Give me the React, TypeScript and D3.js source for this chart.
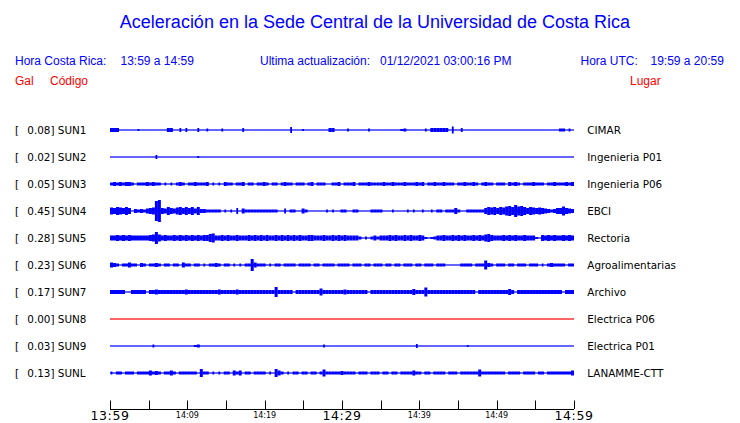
import React from "react";
import * as d3 from "d3";

// ---------- data ----------
const stationCodes = ["SUN1", "SUN2", "SUN3", "SUN4", "SUN5", "SUN6", "SUN7", "SUN8", "SUN9", "SUNL"];
const peakGal = [0.08, 0.02, 0.05, 0.45, 0.28, 0.23, 0.17, 0.0, 0.03, 0.13];
const places = [
  "CIMAR",
  "Ingenieria P01",
  "Ingenieria P06",
  "EBCI",
  "Rectoria",
  "Agroalimentarias",
  "Archivo",
  "Electrica P06",
  "Electrica P01",
  "LANAMME-CTT",
];

// envelope of each trace: one character per time bin (base-36 digit = peak-to-peak height, half pixels)
const env1 = ["4440000002", "0000000004", "4004040004", "0030000300", "0000400000", "0000000000", "6000200000", "0004400003", "0000003000", "0000000230", "0000030444", "4440700400", "0000000000", "0000000000", "0000000000", "33030"];
const env2 = ["0000000000", "0000040000", "0000000002", "0000000000", "0000000000", "0000000000", "0000000000", "0000000000", "0000000000", "0000000000", "0000000000", "0000000000", "0000000000", "0000000000", "0000000000", "00000"];
const env3 = ["3434344303", "3343433030", "3034303343", "3340303043", "3033403303", "3430330343", "3033303403", "3300334033", "3403334333", "3433433343", "3343403343", "3433303343", "3430343303", "3304343033", "3433303343", "33434"];
const env4 = ["7687686043", "43567km658", "6578686858", "4433333030", "3060533333", "3333330050", "3300530000", "0030300330", "0330000333", "3000300003", "0300300303", "3033363003", "3333368786", "879a8c9a86", "8767654346", "69654"];
const env5 = ["5565656555", "55567c7565", "5656565656", "5668955656", "5565556565", "6565565656", "5656556655", "5655656565", "5553030353", "5556565565", "6556520235", "5655656565", "5656578655", "5656565565", "5520656565", "56565"];
const env6 = ["5430335330", "4303343033", "0330533033", "0303343033", "0303033c53", "3303033033", "3303333033", "0333303333", "0333033033", "3033033033", "3033033303", "3300000333", "3033394303", "3303303330", "3330303433", "33033"];
const env7 = ["4444400444", "4404454444", "4444454444", "4444445444", "4454444444", "44444a4444", "4044444444", "7444444454", "4444440444", "4444444444", "4644494444", "4444444444", "4404444444", "4446404444", "4444444444", "40444"];
const env8 = ["0000000000", "0000000000", "0000000000", "0000000000", "0000000000", "0000000000", "0000000000", "0000000000", "0000000000", "0000000000", "0000000000", "0000000000", "0000000000", "0000000000", "0000000000", "00000"];
const env9 = ["0000000000", "0000300000", "0000000023", "0000000000", "0000000000", "0000000000", "0000000000", "0300000000", "0000000000", "0000000000", "0040000000", "0000000002", "0000000000", "0000000000", "0000000000", "00000"];
const envL = ["3033033303", "3335343033", "5303333330", "8330303033", "0535033033", "3303085303", "0330330330", "3733333433", "3303330333", "0330330333", "3533033033", "3303330333", "3337333333", "3303333033", "3303303333", "33335"];
const envelopes = [env1, env2, env3, env4, env5, env6, env7, env8, env9, envL];

const windowMinutes = 60;
const tickMinutes = [0, 5, 10, 15, 20, 25, 30, 35, 40, 45, 50, 55, 60];
const labelMinutes = [0, 10, 20, 30, 40, 50, 60];
const labelTexts = ["13:59", "14:09", "14:19", "14:29", "14:39", "14:49", "14:59"];

const title = "Aceleración en la Sede Central de la Universidad de Costa Rica";

// ---------- chart ----------
const W = 740;
const H = 423;
const BLUE = "#0000ff";
const RED = "#ff0000";
const HEAD_FONT = "'Liberation Sans', Arial, sans-serif";
const LABEL_FONT = "'DejaVu Sans', sans-serif";

export default function App() {
  const x = d3.scaleLinear().domain([0, windowMinutes]).range([110, 574]);
  const y = d3.scalePoint<string>().domain(stationCodes).range([130, 373]);
  const amp = d3.scaleLinear().domain([0, 2]).range([0, 1]); // half-pixel units -> px
  const axisY = 409;

  return (
    <svg
      width={W}
      height={H}
      style={{ position: "absolute", left: 0, top: 0, background: "#fff" }}
    >
      <rect width={W} height={H} fill="#fff" />
      <text x={375} y={28} textAnchor="middle" fill={BLUE} fontFamily={HEAD_FONT} fontSize={18}>
        {title}
      </text>

      <g fontFamily={HEAD_FONT} fontSize={12} fill={BLUE}>
        <text x={15} y={65}>Hora Costa Rica:</text>
        <text x={120.5} y={65}>13:59 a 14:59</text>
        <text x={260} y={65}>Ultima actualización:</text>
        <text x={380} y={65}>01/12/2021 03:00:16 PM</text>
        <text x={580.5} y={65}>Hora UTC:</text>
        <text x={650.5} y={65}>19:59 a 20:59</text>
      </g>
      <g fontFamily={HEAD_FONT} fontSize={12} fill={RED}>
        <text x={15} y={85}>Gal</text>
        <text x={50} y={85}>Código</text>
        <text x={630} y={85}>Lugar</text>
      </g>

      {stationCodes.map((code, i) => {
        const cy = y(code) as number;
        const groups = envelopes[i];
        const s = groups.join("");
        const n = s.length;
        const color = peakGal[i] === 0 ? RED : BLUE;
        return (
          <g key={code}>
            <text x={15} y={cy + 4} fontFamily={LABEL_FONT} fontSize={10.4} fill="#000">[</text>
            <text x={27.3} y={cy + 4} fontFamily={LABEL_FONT} fontSize={10.4} fill="#000">
              {peakGal[i].toFixed(2) + "] " + code}
            </text>
            <text x={587.3} y={cy + 4} fontFamily={LABEL_FONT} fontSize={10.4} fill="#000">
              {places[i]}
            </text>
            <rect x={x(0)} y={cy - 0.6} width={x(windowMinutes) - x(0)} height={1.2} fill={color} />
            {s.split("").map((c, j) => {
              const v = parseInt(c, 36);
              if (!v) return null;
              const prev = j > 0 ? parseInt(s[j - 1], 36) : 0;
              const next = j < n - 1 ? parseInt(s[j + 1], 36) : 0;
              const isolated = !prev && !next;
              const x0 = x((j * windowMinutes) / n);
              const x1 = x(((j + 1) * windowMinutes) / n);
              const w = isolated ? (x1 - x0) * 0.6 : x1 - x0;
              const h = amp(v) * 2;
              return (
                <rect key={j} x={(x0 + x1) / 2 - w / 2} y={cy - h / 2} width={w} height={h} fill={color} />
              );
            })}
          </g>
        );
      })}

      <g>
        <line x1={x(0)} x2={x(windowMinutes)} y1={axisY + 0.5} y2={axisY + 0.5} stroke="#000" strokeWidth={1} />
        {tickMinutes.map((m) => (
          <line key={m} x1={Math.round(x(m)) + 0.5} x2={Math.round(x(m)) + 0.5} y1={axisY - 8.5} y2={axisY} stroke="#000" strokeWidth={1} />
        ))}
        {labelMinutes.map((m, i) => {
          const major = i % 3 === 0;
          return (
            <text
              key={m}
              x={x(m)}
              y={major ? 420 : 417.5}
              textAnchor="middle"
              fontFamily={LABEL_FONT}
              fontSize={major ? 12.5 : 8}
              letterSpacing={major ? 0.6 : 0}
              fill="#000"
            >
              {labelTexts[i]}
            </text>
          );
        })}
      </g>
    </svg>
  );
}
